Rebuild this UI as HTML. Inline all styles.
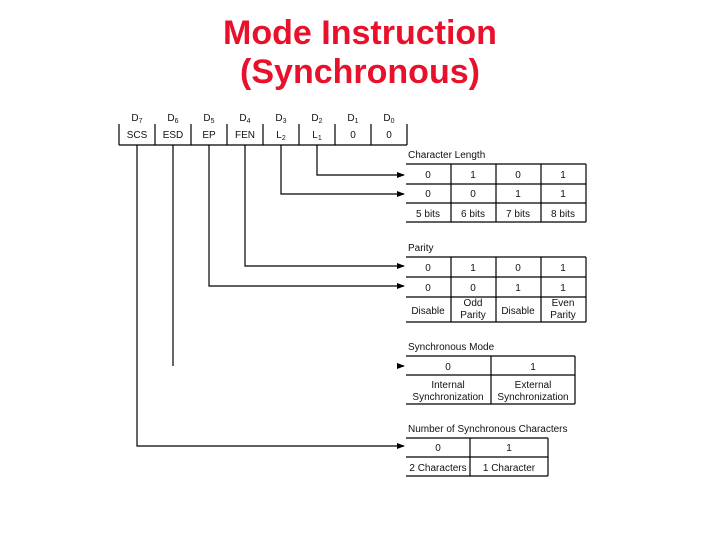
<!DOCTYPE html>
<html><head><style>
body{margin:0;background:#fff;width:720px;height:540px;overflow:hidden}
svg text{font-family:"Liberation Sans",sans-serif}
</style></head><body>
<svg width="720" height="540" viewBox="0 0 720 540">
<defs><marker id="a" markerWidth="8" markerHeight="6" refX="7" refY="3" orient="auto" markerUnits="userSpaceOnUse"><path d="M0,0L8,3L0,6z" fill="#000"/></marker></defs>
<g fill="#e8102a" font-size="34" font-weight="bold" text-anchor="middle">
<text x="360" y="44">Mode Instruction</text>
<text x="360" y="83">(Synchronous)</text>
</g>
<g stroke="#000" stroke-width="1.2" fill="none">
<path d="M119,124V145M155,124V145M191,124V145M227,124V145M263,124V145M299,124V145M335,124V145M371,124V145M407,124V145M119,145H407"/>
<path d="M317,145V175H404" marker-end="url(#a)"/>
<path d="M281,145V194H404" marker-end="url(#a)"/>
<path d="M245,145V266H404" marker-end="url(#a)"/>
<path d="M209,145V286H404" marker-end="url(#a)"/>
<path d="M173,145V366"/>
<path d="M398,366H404" marker-end="url(#a)"/>
<path d="M137,145V446H404" marker-end="url(#a)"/>
<path d="M406,164H586M406,184H586M406,203H586M406,222H586M451,164V222M496,164V222M541,164V222M586,164V222"/>
<path d="M406,257H586M406,277H586M406,297H586M406,322H586M451,257V322M496,257V322M541,257V322M586,257V322"/>
<path d="M406,356H575M406,375H575M406,404H575M491,356V404M575,356V404"/>
<path d="M406,438H548M406,457H548M406,476H548M470,438V476M548,438V476"/>
</g>
<g font-size="10" text-anchor="middle" fill="#111">
<text x="137" y="121">D<tspan font-size="7" dy="2">7</tspan></text>
<text x="173" y="121">D<tspan font-size="7" dy="2">6</tspan></text>
<text x="209" y="121">D<tspan font-size="7" dy="2">5</tspan></text>
<text x="245" y="121">D<tspan font-size="7" dy="2">4</tspan></text>
<text x="281" y="121">D<tspan font-size="7" dy="2">3</tspan></text>
<text x="317" y="121">D<tspan font-size="7" dy="2">2</tspan></text>
<text x="353" y="121">D<tspan font-size="7" dy="2">1</tspan></text>
<text x="389" y="121">D<tspan font-size="7" dy="2">0</tspan></text>
<text x="137" y="138">SCS</text><text x="173" y="138">ESD</text><text x="209" y="138">EP</text><text x="245" y="138">FEN</text>
<text x="281" y="138">L<tspan font-size="7" dy="2">2</tspan></text>
<text x="317" y="138">L<tspan font-size="7" dy="2">1</tspan></text>
<text x="353" y="138">0</text><text x="389" y="138">0</text>
<text x="428" y="178">0</text><text x="473" y="178">1</text><text x="518" y="178">0</text><text x="563" y="178">1</text>
<text x="428" y="197">0</text><text x="473" y="197">0</text><text x="518" y="197">1</text><text x="563" y="197">1</text>
<text x="428" y="217">5 bits</text><text x="473" y="217">6 bits</text><text x="518" y="217">7 bits</text><text x="563" y="217">8 bits</text>
<text x="428" y="271">0</text><text x="473" y="271">1</text><text x="518" y="271">0</text><text x="563" y="271">1</text>
<text x="428" y="291">0</text><text x="473" y="291">0</text><text x="518" y="291">1</text><text x="563" y="291">1</text>
<text x="428" y="314">Disable</text><text x="473" y="306">Odd</text><text x="473" y="318">Parity</text>
<text x="518" y="314">Disable</text><text x="563" y="306">Even</text><text x="563" y="318">Parity</text>
<text x="448" y="370">0</text><text x="533" y="370">1</text>
<text x="448" y="388">Internal</text><text x="448" y="400">Synchronization</text>
<text x="533" y="388">External</text><text x="533" y="400">Synchronization</text>
<text x="438" y="451">0</text><text x="509" y="451">1</text>
<text x="438" y="471">2 Characters</text><text x="509" y="471">1 Character</text>
</g>
<g font-size="10" fill="#111">
<text x="408" y="158">Character Length</text>
<text x="408" y="251">Parity</text>
<text x="408" y="350">Synchronous Mode</text>
<text x="408" y="432">Number of Synchronous Characters</text>
</g>
</svg>
</body></html>
